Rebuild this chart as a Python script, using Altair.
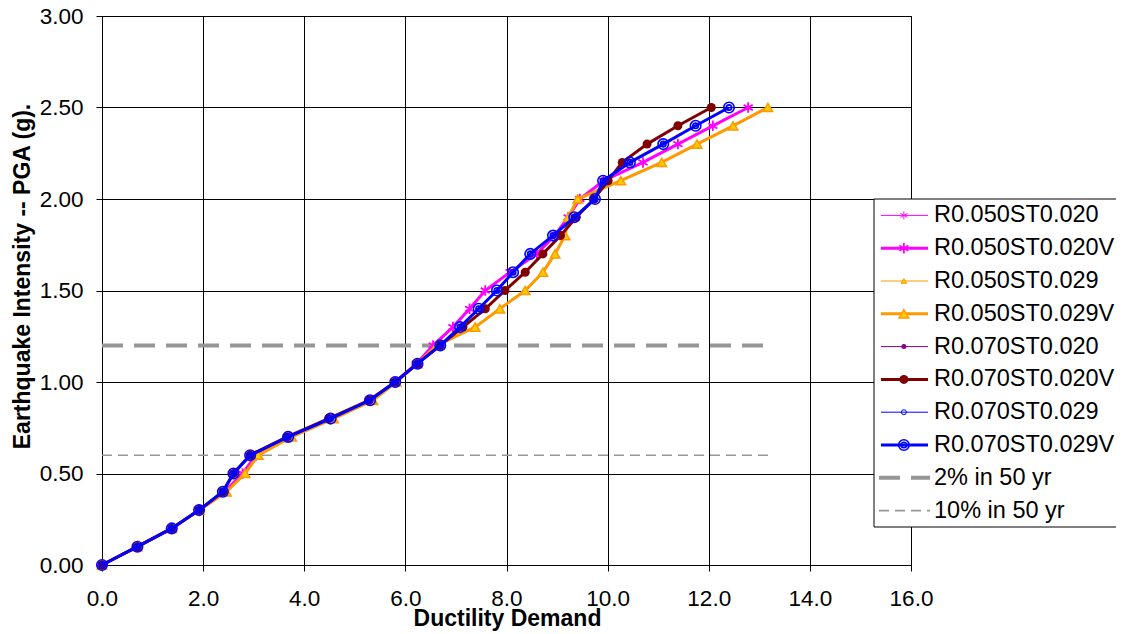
import altair as alt
import pandas as pd

# ---------------- data ----------------
pga_levels = [0.0, 0.1, 0.2, 0.3, 0.4, 0.5, 0.6, 0.7, 0.8, 0.9, 1.0, 1.1, 1.2,
              1.3, 1.4, 1.5, 1.6, 1.7, 1.8, 1.9, 2.0, 2.1, 2.2, 2.3, 2.4, 2.5]

mu_r050_st020 = [0.00, 0.70, 1.38, 1.92, 2.42, 2.78, 3.05, 3.72, 4.55, 5.33, 5.80, 6.22, 6.55,
                 6.94, 7.27, 7.58, 8.07, 8.60, 8.95, 9.22, 9.45, 9.92, 10.70, 11.39, 12.08, 12.78]
mu_r050_st029 = [0.00, 0.70, 1.38, 1.93, 2.46, 2.83, 3.09, 3.75, 4.58, 5.36, 5.82, 6.24, 6.62,
                 7.38, 7.87, 8.37, 8.72, 8.96, 9.16, 9.22, 9.41, 10.26, 11.07, 11.77, 12.48, 13.17]
mu_r070_st020 = [0.00, 0.70, 1.38, 1.92, 2.39, 2.60, 2.93, 3.66, 4.48, 5.28, 5.80, 6.24, 6.69,
                 7.14, 7.58, 7.97, 8.37, 8.72, 9.07, 9.38, 9.73, 10.01, 10.29, 10.78, 11.39, 12.05]
mu_r070_st029 = [0.00, 0.70, 1.38, 1.92, 2.39, 2.60, 2.93, 3.68, 4.52, 5.30, 5.80, 6.24, 6.69,
                 7.08, 7.45, 7.81, 8.13, 8.47, 8.92, 9.34, 9.75, 9.91, 10.44, 11.10, 11.74, 12.40]

series_names = ["R0.050ST0.020", "R0.050ST0.020V", "R0.050ST0.029", "R0.050ST0.029V",
                "R0.070ST0.020", "R0.070ST0.020V", "R0.070ST0.029", "R0.070ST0.029V"]
series_values = [mu_r050_st020, mu_r050_st020, mu_r050_st029, mu_r050_st029,
                 mu_r070_st020, mu_r070_st020, mu_r070_st029, mu_r070_st029]

ref_names = ["2% in 50 yr", "10% in 50 yr"]
ref_pga = [1.2, 0.6]
ref_mu_span = [0.0, 13.25]

x_ticks = [0, 2, 4, 6, 8, 10, 12, 14, 16]
y_ticks = [0.0, 0.5, 1.0, 1.5, 2.0, 2.5, 3.0]

# ---------------- styles ----------------
FONT = "Liberation Sans"
STAR = "M0,-1L0,1M-0.866,-0.5L0.866,0.5M-0.866,0.5L0.866,-0.5"
PINK, ORANGE, GOLD, PURPLE, MAROON, BLUE, GRAY = (
    "#FF00FF", "#FF9900", "#FFCC00", "#800080", "#800000", "#0000FF", "#969696")

styles = [
    dict(color=PINK, width=1, marks=[dict(shape=STAR, size=64, filled=False, stroke=PINK, strokeWidth=1)]),
    dict(color=PINK, width=3, marks=[dict(shape=STAR, size=110, filled=False, stroke=PINK, strokeWidth=1.8)]),
    dict(color=ORANGE, width=1, marks=[dict(shape="triangle-up", size=30, filled=True, fill=GOLD, stroke=ORANGE, strokeWidth=1)]),
    dict(color=ORANGE, width=3, marks=[dict(shape="triangle-up", size=90, filled=True, fill=GOLD, stroke=ORANGE, strokeWidth=1.5)]),
    dict(color=PURPLE, width=1, marks=[dict(shape="circle", size=25, filled=True, fill=PURPLE)]),
    dict(color=MAROON, width=3, marks=[dict(shape="circle", size=81, filled=True, fill=MAROON)]),
    dict(color=BLUE, width=1, marks=[dict(shape="circle", size=25, filled=False, stroke=BLUE, strokeWidth=1)]),
    dict(color=BLUE, width=3, marks=[dict(shape="circle", size=110, filled=False, stroke=BLUE, strokeWidth=1.6),
                                     dict(shape="circle", size=30, filled=False, stroke=BLUE, strokeWidth=1.6)]),
]
ref_styles = [dict(width=4, dash=[21, 11]), dict(width=1.6, dash=[10, 6])]

# ---------------- scales / axes ----------------
x_scale = alt.Scale(domain=[0, 16], nice=False, zero=False)
y_scale = alt.Scale(domain=[0, 3], nice=False, zero=False)

x_axis = alt.Axis(values=x_ticks, format=".1f", grid=True, gridColor="#000000", gridWidth=1,
                  domainColor="#000000", tickColor="#000000", tickSize=6, labelFlush=False,
                  labelFont=FONT, labelFontSize=22.5, labelColor="#000000", labelPadding=16,
                  title="Ductility Demand", titleFont=FONT, titleFontSize=23, titleFontWeight="bold",
                  titleColor="#000000", titleX=405, titleY=60, titleBaseline="alphabetic",
                  titleAlign="center")
y_axis = alt.Axis(values=y_ticks, format=".2f", grid=True, gridColor="#000000", gridWidth=1,
                  domainColor="#000000", tickColor="#000000", tickSize=6, labelFlush=False,
                  labelFont=FONT, labelFontSize=22.5, labelColor="#000000", labelPadding=13,
                  title="Earthquake Intensity -- PGA (g).", titleFont=FONT, titleFontSize=23,
                  titleFontWeight="bold", titleColor="#000000", titleAngle=270,
                  titleX=-73, titleY=260, titleBaseline="alphabetic", titleAlign="center")


def enc_x():
    return alt.X("mu:Q", scale=x_scale, axis=x_axis)


def enc_y():
    return alt.Y("pga:Q", scale=y_scale, axis=y_axis)


data_layers = []
for name, pga, st in zip(ref_names, ref_pga, ref_styles):
    df = pd.DataFrame({"mu": ref_mu_span, "pga": [pga, pga]})
    data_layers.append(alt.Chart(df).mark_line(color=GRAY, strokeWidth=st["width"],
                                               strokeDash=st["dash"]).encode(x=enc_x(), y=enc_y()))

for name, vals, st in zip(series_names, series_values, styles):
    df = pd.DataFrame({"mu": vals, "pga": pga_levels})
    base = alt.Chart(df)
    data_layers.append(base.mark_line(color=st["color"], strokeWidth=st["width"]).encode(x=enc_x(), y=enc_y()))
    for m in st["marks"]:
        data_layers.append(base.mark_point(opacity=1, **m).encode(x=enc_x(), y=enc_y()))

# ---------------- legend (drawn with its own scales) ----------------
lx_scale = alt.Scale(domain=[0, 1], range=[772, 1021], nice=False, zero=False)
ly_scale = alt.Scale(domain=[0, 10], range=[183, 511], nice=False, zero=False)


def lx(v):
    return alt.XDatum(v, type="quantitative", scale=lx_scale, axis=None)


def ly():
    return alt.Y("row:Q", scale=ly_scale, axis=None)


one = pd.DataFrame({"k": [0]})
legend_layers = [
    alt.Chart(one).mark_rect(fill="#FFFFFF", stroke="#000000", strokeWidth=1).encode(
        x=lx(0), x2=alt.X2Datum(1),
        y=alt.YDatum(0, type="quantitative", scale=ly_scale, axis=None), y2=alt.Y2Datum(10))
]

all_names = series_names + ref_names
for i, (name, st) in enumerate(zip(series_names, styles)):
    df = pd.DataFrame({"row": [i + 0.5]})
    legend_layers.append(alt.Chart(df).mark_rule(color=st["color"], strokeWidth=st["width"]).encode(
        x=lx(0.028), x2=alt.X2Datum(0.217), y=ly()))
    for m in st["marks"]:
        legend_layers.append(alt.Chart(df).mark_point(opacity=1, **m).encode(x=lx(0.12), y=ly()))
for j, (name, st) in enumerate(zip(ref_names, ref_styles)):
    df = pd.DataFrame({"row": [len(series_names) + j + 0.5]})
    legend_layers.append(alt.Chart(df).mark_rule(color=GRAY, strokeWidth=st["width"],
                                                 strokeDash=st["dash"]).encode(
        x=lx(0.02), x2=alt.X2Datum(0.225), y=ly()))

names_df = pd.DataFrame({"name": all_names, "row": [i + 0.5 for i in range(len(all_names))]})
legend_layers.append(alt.Chart(names_df).mark_text(align="left", baseline="middle", font=FONT,
                                                   fontSize=23.5, color="#000000").encode(
    x=lx(0.241), y=ly(), text="name:N"))

chart = alt.layer(alt.layer(*data_layers), alt.layer(*legend_layers)).resolve_scale(
    x="independent", y="independent"
).properties(
    width=809, height=549, autosize="none",
    padding={"left": 94, "top": 8, "right": 205, "bottom": 66},
    background="#FFFFFF"
).configure_view(stroke="#000000", strokeWidth=1)

chart.save("out.html", embed_options={"renderer": "svg", "actions": False})
